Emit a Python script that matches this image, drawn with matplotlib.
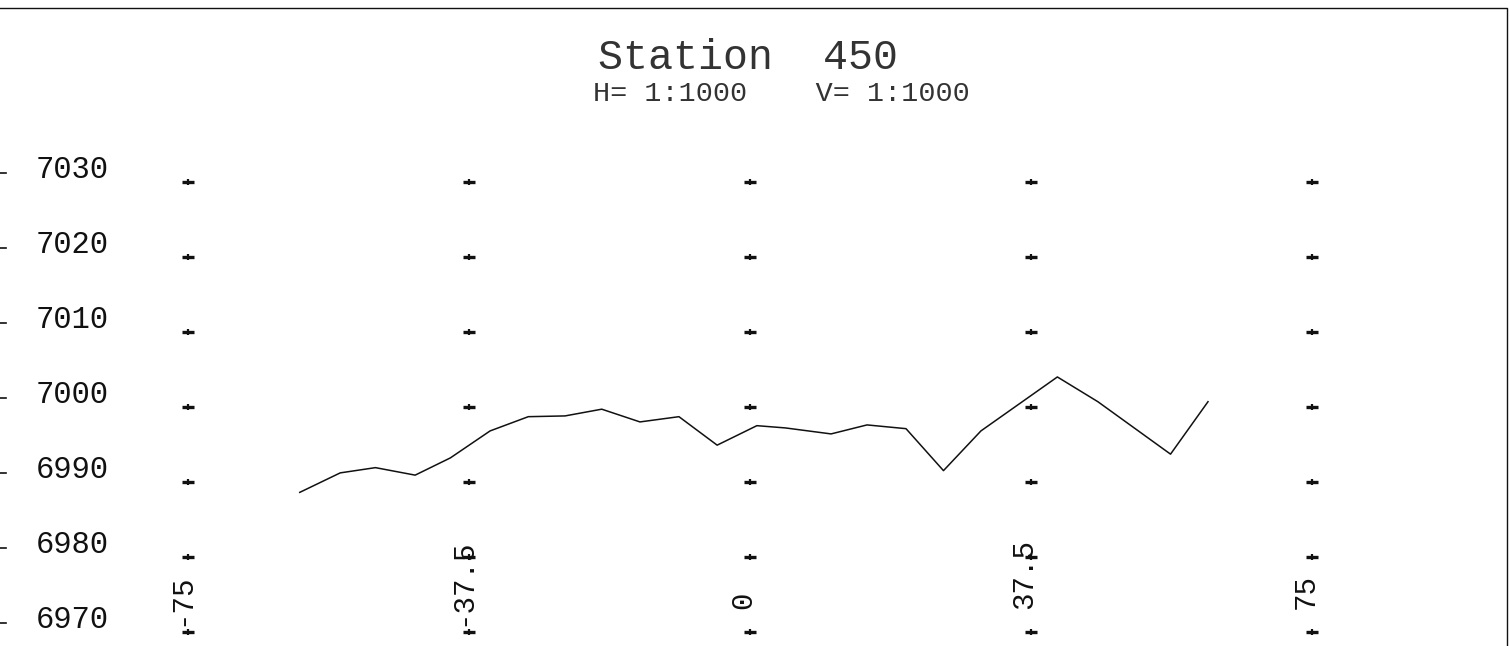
import matplotlib.pyplot as plt
import numpy as np

# profile for station 450 (offset, elevation)
offset = [-60.1, -54.7, -50.0, -44.7, -40.0, -34.7, -29.6, -24.7, -19.8, -14.7,
          -9.5, -4.4, 0.9, 4.7, 10.8, 15.6, 20.8, 25.8, 30.8, 41.0, 46.4, 56.1, 61.1]
elev = [6988.6, 6991.2, 6991.9, 6990.9, 6993.2, 6996.8, 6998.7, 6998.8, 6999.7, 6998.0,
        6998.7, 6994.9, 6997.5, 6997.2, 6996.4, 6997.6, 6997.1, 6991.5, 6996.8, 7004.0,
        7000.7, 6993.7, 7000.7]

grid_x = [-75, -37.5, 0, 37.5, 75]
grid_x_labels = ['-75', '-37.5', '0', '37.5', '75']
grid_y = [7030, 7020, 7010, 7000, 6990, 6980, 6970]

title = 'Station  450'
subtitle = 'H= 1:1000    V= 1:1000'

FONT = 'Liberation Mono'
INK = '#111111'

fig = plt.figure(figsize=(15.10, 6.46), dpi=100)
ax = fig.add_axes([0, 0, 1, 1])
# 1 unit ~ 7.5 px both ways, like the plotter sheet
ax.set_xlim(-100.1, 101.4)
ax.set_ylim(6968.1, 7054.3)
ax.axis('off')

# sheet border (top and right edge)
ax.plot([-100.1, 101.0, 101.0], [7053.2, 7053.2, 6968.1], color=INK, lw=1.0)

# grid crosses: wide flat dash with a tiny upright
gx, gy = np.meshgrid(grid_x, grid_y)
ax.plot(gx.ravel(), gy.ravel(), ls='none', marker='_', ms=9, mew=2.4, color=INK)
ax.plot(gx.ravel(), gy.ravel(), ls='none', marker='|', ms=4.5, mew=1.6, color=INK)

# profile line
ax.plot(offset, elev, color=INK, lw=1.1)

# elevation labels with a short tick on the left edge
for v in grid_y:
    ax.plot([-100.1, -99.3], [v + 1.2, v + 1.2], color=INK, lw=1.2)
    ax.text(-90.5, v + 1.6, str(v), fontsize=22, family=FONT, color=INK,
            ha='center', va='center')

# offset labels, rotated
for x, lab in zip(grid_x, grid_x_labels):
    y0 = 6970.8 if lab.startswith('-') else 6973.0
    ax.text(x - 0.9, y0, lab, fontsize=21, family=FONT, color=INK,
            rotation=90, rotation_mode='anchor', ha='left', va='center')

ax.text(-0.3, 7046.5, title, fontsize=30, family=FONT, color='#333333',
        ha='center', va='center')
ax.text(4.2, 7041.8, subtitle, fontsize=20.5, family=FONT, color='#333333',
        ha='center', va='center')

fig.savefig('out.png', dpi=100)
